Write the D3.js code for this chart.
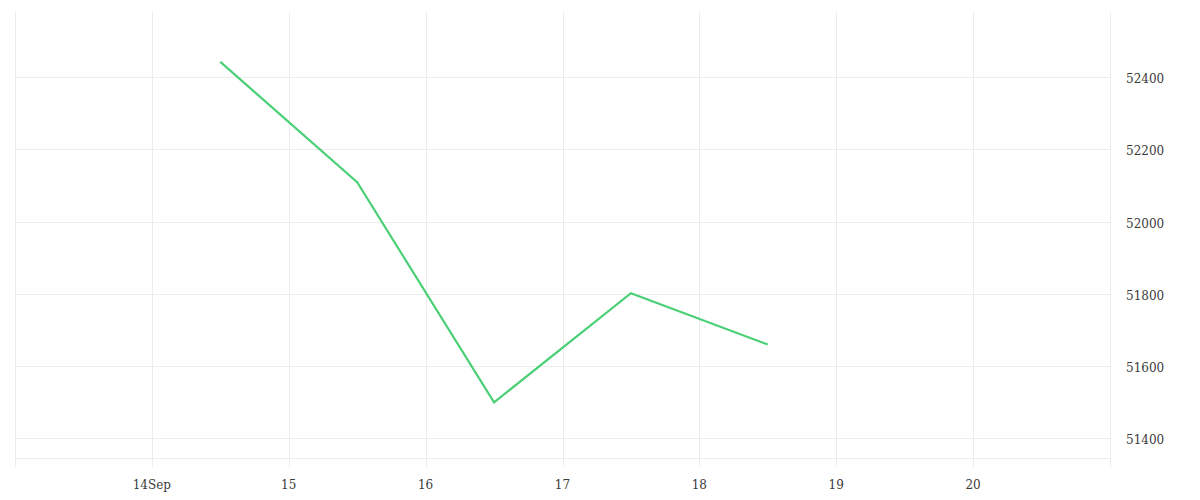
<!DOCTYPE html>
<html><head><meta charset="utf-8">
<script src="https://cdn.jsdelivr.net/npm/d3@7"></script>
<style>
html,body{margin:0;padding:0;background:#fff;}
text{font-family:"DejaVu Serif",serif;font-size:12px;fill:#3a3a3a;}
</style></head>
<body><svg id="c" width="1200" height="500"></svg>
<script>
const dates = ["2023-09-14T12:00","2023-09-15T12:00","2023-09-16T12:00","2023-09-17T12:00","2023-09-18T12:00"];
const values = [52442, 52109, 51500, 51802, 51660];
const yTicks = [51400, 51600, 51800, 52000, 52200, 52400];
const xTickDays = ["2023-09-14","2023-09-15","2023-09-16","2023-09-17","2023-09-18","2023-09-19","2023-09-20"];
const xTickLabels = ["14Sep","15","16","17","18","19","20"];

const parse = d3.timeParse("%Y-%m-%dT%H:%M");
const parseDay = d3.timeParse("%Y-%m-%d");
const svg = d3.select("#c");
const L = 15, R = 1110, T = 12, B = 458;
const x = d3.scaleTime().domain([parseDay("2023-09-13"), parseDay("2023-09-21")]).range([L, R]);
const y = d3.scaleLinear().domain([51346, 52580]).range([B, T]);
const grid = "#ececec";

// vertical grid lines (extend below plot as ticks)
const vDays = d3.timeDay.range(parseDay("2023-09-13"), d3.timeDay.offset(parseDay("2023-09-21"),1));
svg.append("g").selectAll("line").data(vDays).join("line")
  .attr("x1", d => Math.round(x(d))+0.5).attr("x2", d => Math.round(x(d))+0.5)
  .attr("y1", T).attr("y2", 467).attr("stroke", grid).attr("stroke-width", 1);

// horizontal grid lines
svg.append("g").selectAll("line").data(yTicks).join("line")
  .attr("x1", L).attr("x2", R)
  .attr("y1", d => Math.round(y(d))+0.5).attr("y2", d => Math.round(y(d))+0.5)
  .attr("stroke", grid);
svg.append("line").attr("x1", L).attr("x2", R).attr("y1", B+0.5).attr("y2", B+0.5).attr("stroke", grid);

// x axis labels
svg.append("g").selectAll("text").data(xTickDays).join("text")
  .attr("x", d => x(parseDay(d))).attr("y", 489).attr("text-anchor", "middle")
  .text((d,i) => xTickLabels[i]);

// y axis labels
svg.append("g").selectAll("text").data(yTicks).join("text")
  .attr("x", 1126).attr("y", d => y(d)).attr("dy", "0.5em")
  .text(d => d3.format("d")(d));

// line
const pts = dates.map((d,i) => ({t: parse(d), v: values[i]}));
svg.append("path").datum(pts)
  .attr("fill", "none").attr("stroke", "#4cd077").attr("stroke-width", 2.2)
  .attr("stroke-linejoin", "miter")
  .attr("d", d3.line().x(d => x(d.t)).y(d => y(d.v)));
</script></body></html>
